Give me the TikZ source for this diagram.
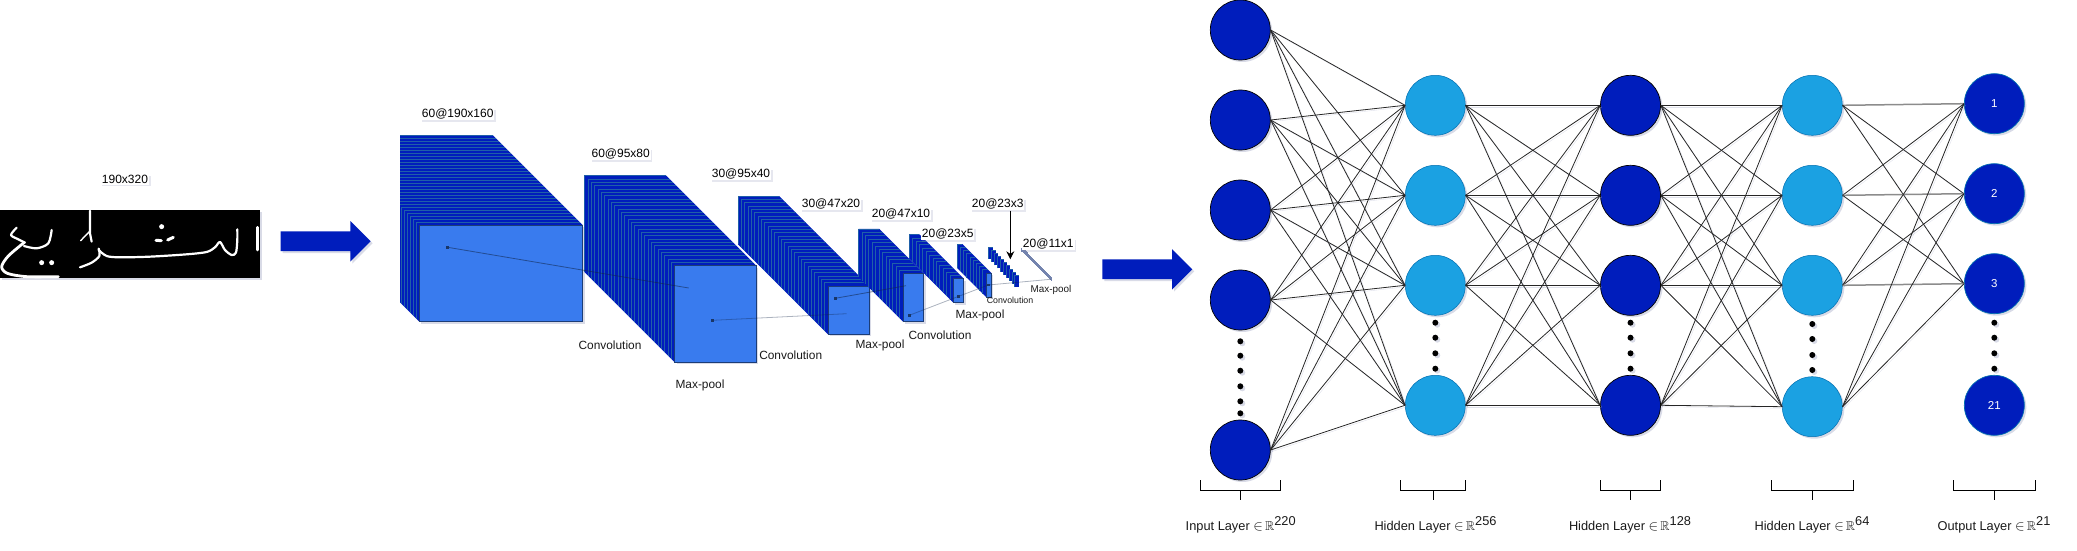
\documentclass[tikz,border=0pt]{standalone}
\usepackage{amssymb}
\usepackage{graphicx}
\usepackage{fontspec}
\setmainfont{Liberation Sans}
\usetikzlibrary{shadows,shapes.arrows,arrows.meta}

\definecolor{darkblue}{HTML}{001DBC}
\definecolor{lightblue}{HTML}{1BA1E2}
\definecolor{edgeblue}{HTML}{006EAF}
\definecolor{faceblue}{HTML}{397BEE}
\definecolor{stripeblue}{HTML}{1F5FA8}
\definecolor{softshadow}{HTML}{8088B0}
\definecolor{thingrey}{HTML}{7484AE}

% stack of feature maps: name, x, y, width, height, offset, count, clip x
\newcommand{\cnnstack}[8]{
  \begin{scope}
    \clip (#8,0) rectangle (2077,551);
    \fill[darkblue] ({#2-#6},{#3-#6}) -- ({#2-#6+#4},{#3-#6}) -- ({#2+#4},#3) -- ({#2+#4},{#3+#5})
      -- (#2,{#3+#5}) -- ({#2-#6},{#3-#6+#5}) -- cycle;
    \foreach \k in {#7,...,1} {
      \fill[darkblue] ({#2-\k*#6/#7},{#3-\k*#6/#7}) rectangle ++(#4,#5);
      \draw[stripeline] ({#2-\k*#6/#7},{#3-\k*#6/#7+#5}) |- ({#2-\k*#6/#7+#4},{#3-\k*#6/#7});
    }
  \end{scope}
  \node[frontface,minimum width=#4pt,minimum height=#5pt] (#1) at ({#2+#4/2},{#3+#5/2}) {};
}

\begin{document}
\begin{tikzpicture}[
  x=1pt,y=-1pt,
  softdrop/.style={drop shadow={shadow xshift=2pt,shadow yshift=-2pt,opacity=.3,fill=softshadow}},
  inputnode/.style={circle,draw=black,fill=darkblue,minimum size=60pt,inner sep=0pt,line width=.7pt,softdrop},
  hiddenlight/.style={circle,draw=edgeblue,fill=lightblue,minimum size=60pt,inner sep=0pt,line width=.5pt,softdrop},
  outputnode/.style={circle,draw=edgeblue,fill=darkblue,text=white,minimum size=60pt,inner sep=0pt,line width=.7pt,softdrop,font=\fontsize{11.5}{13}\selectfont},
  dotnode/.style={circle,fill=black,minimum size=6pt,inner sep=0pt,softdrop},
  edge/.style={draw=black!85,line width=.8pt,preaction={draw=softshadow,opacity=.25,transform canvas={xshift=1.5pt,yshift=-1.5pt}}},
  flatedge/.style={draw=black!45,line width=1.5pt},
  bracket/.style={draw=black,line width=.8pt},
  dimlabel/.style={fill=white,inner sep=1pt,font=\fontsize{12}{14}\selectfont,
    drop shadow={shadow xshift=1.5pt,shadow yshift=-1.5pt,opacity=.2,fill=softshadow}},
  oplabel/.style={inner sep=0pt,text=black!90,font=\fontsize{11.9}{14}\selectfont},
  layerlabel/.style={inner sep=0pt,text=black!90,font=\fontsize{12.8}{15}\selectfont},
  stripeline/.style={draw=stripeblue,line width=.6pt},
  frontface/.style={fill=faceblue,draw=black!50!faceblue,line width=.7pt,inner sep=0pt,softdrop},
  blockarrow/.style={single arrow,fill=darkblue,inner sep=0pt,text height=19.4pt,text depth=0pt,single arrow head extend=10.3pt,softdrop},
  linkline/.style={draw=black!70!faceblue,opacity=.55,line width=.8pt},
  linkdot/.style={rectangle,fill=black!70!faceblue,opacity=.8,minimum size=2.5pt,inner sep=0pt},
  pen/.style={draw=white,line width=2.2pt,line cap=round,line join=round}
]
\useasboundingbox (0,0) rectangle (2077,551);

% input image
\node[dimlabel] (imgsize) at (125,179.3) {190x320};
\node[fill=black,minimum width=260pt,minimum height=68.3pt,inner sep=0pt,softdrop] (img) at (130,244.2) {};
\begin{scope}[shift={(0,150)},x=.3333pt,y=-.3333pt]
  \draw[pen] plot[smooth] coordinates {(240,352) (275,338) (298,318) (296,296)};
  \draw[pen] plot[smooth] coordinates {(296,300) (320,318) (360,322) (450,320) (560,313) (620,306) (645,292) (660,276) (675,300) (695,315) (708,308) (712,270) (712,238)};
  \draw[pen] (270,182) -- (270,250) -- (275,275);
  \draw[pen,line width=1.4pt] (242,272) -- (268,245);
  \draw[pen] plot[smooth] coordinates {(50,233) (33,255) (55,268) (75,278)};
  \draw[pen] plot[smooth] coordinates {(72,288) (110,295) (145,280) (155,240)};
  \draw[pen,line width=2.8pt] plot[smooth] coordinates {(72,278) (25,318) (5,350) (22,370) (80,380) (175,380)};
  \draw[pen,line width=2.6pt] (772,232) -- (772,300);
  \draw[pen,line width=3pt] (468,271) -- (484,272);
  \draw[pen,line width=3pt] (503,270) -- (520,262);
  \fill[white] (125,338) circle (2.5pt) (155,338) circle (2.5pt) (485,230) circle (2.5pt);
\end{scope}
\node[blockarrow,minimum height=90pt] (firstarrow) at (320.7,241.3) {};

% convolution stacks
\cnnstack{conva}{419.3}{225}{163.4}{96.7}{90}{30}{400}
\cnnstack{convb}{674.7}{265.7}{81.6}{96.6}{90}{27}{0}
\cnnstack{convc}{828}{286}{41}{48.3}{90}{27}{0}
\cnnstack{convd}{903}{273.3}{20.7}{48.4}{44.5}{13}{0}
\cnnstack{conve}{953.3}{278.7}{10.4}{24}{44.3}{13}{0}
\cnnstack{convf}{986}{273}{5.3}{24}{29}{9}{0}
\foreach \k in {9,...,0} {
  \fill[darkblue] ({1014.7-\k*2.9},{275-\k*3.1}) rectangle ++(4,12);
  \draw[stripeline] ({1014.7-\k*2.9},{287-\k*3.1}) |- ({1018.7-\k*2.9},{275-\k*3.1});
}
\foreach \k in {30,...,0}
  \fill[thingrey] ({1050.5-\k*.98},{276.9-\k*.98}) rectangle ++(1.5,4);

% links between maps
\node[linkdot] (lka) at (447.7,247.3) {};
\coordinate (lkaend) at (688.7,288);
\node[linkdot] (lkb) at (712.7,320.3) {};
\coordinate (lkbend) at (846.7,313.7);
\node[linkdot] (lkc) at (835.3,298.3) {};
\coordinate (lkcend) at (906,285.7);
\node[linkdot] (lkd) at (909.3,315.3) {};
\node[linkdot] (lke) at (958.7,296.3) {};
\node[linkdot] (lkf) at (988.3,285) {};
\coordinate (lkfend) at (1050.7,279.3);
\draw[linkline] (lka) -- (lkaend);
\draw[linkline,opacity=.35] (lkb) -- (lkbend);
\draw[linkline] (lkc) -- (lkcend);
\draw[linkline,opacity=.35] (lkd) -- (lke);
\draw[linkline,opacity=.35] (lke) -- (lkf);
\draw[linkline,opacity=.35] (lkf) -- (lkfend);

% stack labels
\node[dimlabel] (dima) at (457.7,114.3) {60@190x160};
\node[dimlabel] (dimb) at (620.7,154.3) {60@95x80};
\node[dimlabel] (dimc) at (741,174.3) {30@95x40};
\node[dimlabel] (dimd) at (831,204.3) {30@47x20};
\node[dimlabel] (dime) at (901,214.3) {20@47x10};
\node[dimlabel] (dimf) at (947.7,234) {20@23x5};
\node[dimlabel] (dimg) at (997.7,204.3) {20@23x3};
\node[dimlabel] (dimh) at (1048.3,244.3) {20@11x1};
\coordinate (dimgtip) at (1010.3,259.3);
\draw[-{Stealth[length=8pt,width=8pt]},line width=.9pt] (dimg.south -| dimgtip) -- (dimgtip);

\node[oplabel] (opa) at (610,345.3) {Convolution};
\node[oplabel] (opb) at (700,385.3) {Max-pool};
\node[oplabel] (opc) at (790.7,355.3) {Convolution};
\node[oplabel] (opd) at (880,345.3) {Max-pool};
\node[oplabel] (ope) at (940,335.3) {Convolution};
\node[oplabel] (opf) at (980,315.3) {Max-pool};
\node[oplabel,font=\fontsize{8.8}{10}\selectfont] (opg) at (1010,300.7) {Convolution};
\node[oplabel,font=\fontsize{9.9}{11}\selectfont] (oph) at (1051,290) {Max-pool};

\node[blockarrow,minimum height=90pt] (secondarrow) at (1142.3,269.3) {};

% dense network
\foreach \n/\y in {1/30,2/120,3/210,4/300,5/450}
  \node[inputnode] (in\n) at (1240.3,\y) {};
\foreach \n/\y in {1/105.3,2/195.3,3/285.3,4/405.3}
  \node[hiddenlight] (ha\n) at (1435.3,\y) {};
\foreach \n/\y in {1/105.3,2/195.3,3/285.3,4/405.3}
  \node[inputnode] (hb\n) at (1630.5,\y) {};
\foreach \n/\y in {1/105.3,2/195.3,3/285.3,4/406.7}
  \node[hiddenlight] (hc\n) at (1812.3,\y) {};
\foreach \n/\y/\t in {1/103.7/1,2/193.7/2,3/283.7/3,4/405.3/21}
  \node[outputnode] (out\n) at (1994.3,\y) {\t};

\foreach \i in {1,...,5}
  \foreach \j in {1,...,4}
    \draw[edge] (in\i.east) -- (ha\j.west);
\foreach \i in {1,...,4}
  \foreach \j in {1,...,4} {
    \draw[edge] (ha\i.east) -- (hb\j.west);
    \draw[edge] (hb\i.east) -- (hc\j.west);
  }
\foreach \i in {1,...,4}
  \foreach \j in {1,...,3} {
    \ifnum\i=\j
      \draw[flatedge] (hc\i.east) -- (out\j.west);
    \else
      \draw[edge] (hc\i.east) -- (out\j.west);
    \fi
  }

% dots between last nodes
\foreach \y [count=\n] in {341.3,355.7,370.7,386.3,401.3,413.3}
  \node[dotnode] (indot\n) at (1240.3,\y) {};
\foreach \y [count=\n] in {322.7,337.7,353.3,368.7} {
  \node[dotnode] (hadot\n) at (1435.3,\y) {};
  \node[dotnode] (hbdot\n) at (1630.5,\y) {};
  \node[dotnode] (outdot\n) at (1994.3,\y) {};
}
\foreach \y [count=\n] in {324,339,355,370}
  \node[dotnode] (hcdot\n) at (1812.3,\y) {};

% layer brackets
\foreach \a/\b/\m in {1200.3/1280.3/1240.3,1400.3/1465.3/1433,1600.3/1660.3/1630,1771.3/1853.7/1812.3,1953/2035.7/1994} {
  \draw[bracket] (\a,480.3) -- (\a,490.3) -- (\b,490.3) -- (\b,480.3);
  \draw[bracket] (\m,490.3) -- (\m,500.3);
}
\node[layerlabel] (lbin) at (1240.7,524.5) {Input Layer \scalebox{1.2}{$\in$}\,$\mathbb{R}$\raisebox{5pt}{220}};
\node[layerlabel] (lbha) at (1435.5,524.5) {Hidden Layer \scalebox{1.2}{$\in$}\,$\mathbb{R}$\raisebox{5pt}{256}};
\node[layerlabel] (lbhb) at (1630,524.5) {Hidden Layer \scalebox{1.2}{$\in$}\,$\mathbb{R}$\raisebox{5pt}{128}};
\node[layerlabel] (lbhc) at (1812,524.5) {Hidden Layer \scalebox{1.2}{$\in$}\,$\mathbb{R}$\raisebox{5pt}{64}};
\node[layerlabel] (lbout) at (1994,524.5) {Output Layer \scalebox{1.2}{$\in$}\,$\mathbb{R}$\raisebox{5pt}{21}};

\end{tikzpicture}
\end{document}
